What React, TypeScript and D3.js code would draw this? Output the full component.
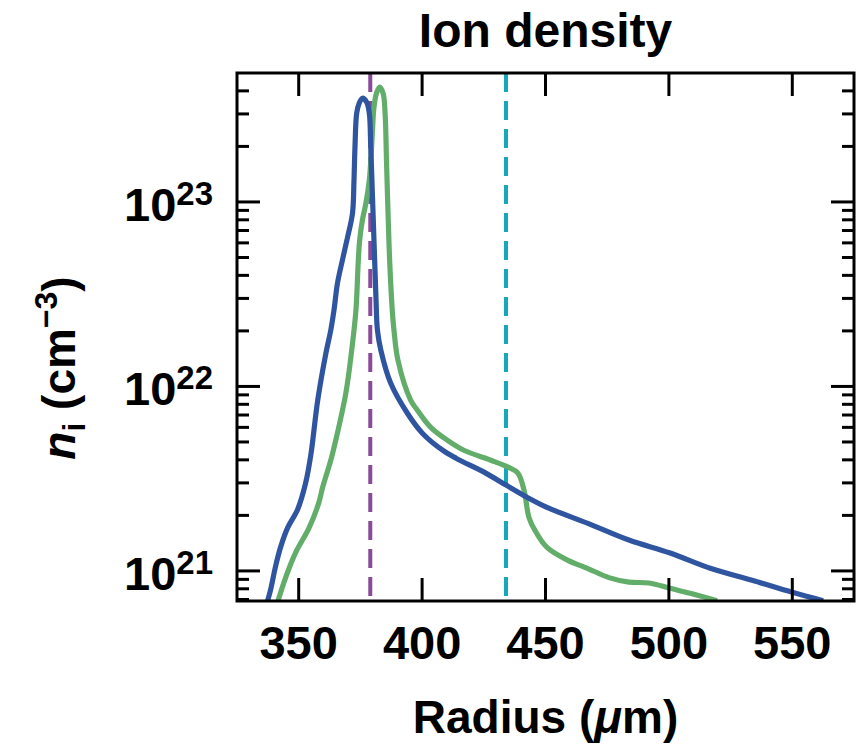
import React from 'react';
import * as d3 from 'd3';

const width = 868;
const height = 749;
const margin = {top: 73, right: 14, bottom: 148, left: 237};
const blue = '#2f55a0';
const green = '#63ad6b';
const purple = '#8b4a99';
const cyan = '#15a8ba';
const font = '"Liberation Sans", Arial, Helvetica, sans-serif';

// blue curve: radius (um) and ion density (cm^-3)
const blueRadius = [337.4, 338.6, 340.7, 342.7, 345.5, 349.6, 352.8, 354.9, 357.7, 361.0, 363.0, 364.3, 365.7, 367.7, 369.8, 371.8, 372.4, 372.8, 373.5, 374.5, 375.8, 377.5, 378.6, 379.2, 379.9, 380.6, 381.3, 381.9, 383.3, 387.3, 394.1, 400.2, 408.3, 413.9, 425.8, 434.0, 442.5, 450.6, 467.2, 483.8, 500.5, 517.1, 533.7, 550.0, 562.5];
const blueDensity = [6.9e20, 7.9e20, 1.07e21, 1.35e21, 1.71e21, 2.16e21, 2.99e21, 4.24e21, 8.4e21, 1.51e22, 2.02e22, 2.59e22, 3.62e22, 4.83e22, 6.44e22, 8.69e22, 1.31e23, 1.98e23, 3.03e23, 3.43e23, 3.65e23, 3.48e23, 3.03e23, 1.98e23, 1.06e23, 5.68e22, 3.04e22, 2.02e22, 1.57e22, 1.04e22, 7.13e21, 5.56e21, 4.51e21, 4.07e21, 3.39e21, 2.92e21, 2.51e21, 2.21e21, 1.81e21, 1.47e21, 1.25e21, 1.03e21, 8.9e20, 7.66e20, 6.9e20];

// green curve
const greenRadius = [341.5, 344.7, 348.8, 354.1, 358.1, 359.7, 363.0, 365.0, 369.1, 371.8, 373.1, 373.5, 374.1, 374.7, 375.8, 377.2, 378.6, 379.2, 379.9, 380.5, 381.5, 382.8, 384.2, 385.0, 385.6, 386.2, 386.9, 388.0, 388.6, 390.2, 395.4, 398.1, 403.5, 410.3, 416.9, 427.9, 434.8, 438.8, 441.3, 443.3, 445.7, 450.6, 459.1, 467.2, 475.7, 483.8, 492.0, 500.5, 508.6, 519.5];
const greenDensity = [6.8e20, 9.2e20, 1.26e21, 1.70e21, 2.33e21, 2.84e21, 3.98e21, 5.1e21, 9.2e21, 1.71e22, 2.5e22, 3.04e22, 4.66e22, 6.2e22, 7.96e22, 9.8e22, 1.31e23, 1.68e23, 2.45e23, 3.26e23, 3.88e23, 4.19e23, 3.88e23, 3.03e23, 1.62e23, 8.69e22, 4.66e22, 2.49e22, 2.02e22, 1.39e22, 8.4e21, 7.43e21, 6.0e21, 5.1e21, 4.51e21, 3.98e21, 3.65e21, 3.39e21, 2.74e21, 1.95e21, 1.66e21, 1.34e21, 1.14e21, 1.03e21, 9.2e20, 8.7e20, 8.6e20, 8.05e20, 7.57e20, 6.9e20];

// vertical dashed markers
const markerRadius = [379, 434];
const markerColors = [purple, cyan];

const xTicks = [350, 400, 450, 500, 550];
const yDecades = [21, 22, 23];

const xScale = d3.scaleLinear().domain([325, 575]).range([margin.left, width - margin.right]);
const yScale = d3.scaleLog().domain([6.87e20, 5e23]).range([height - margin.bottom, margin.top]);

const minorTicks: number[] = [];
[20, 21, 22, 23].forEach(e => {
  for (let m = 1; m <= 9; m++) {
    const v = m * Math.pow(10, e);
    if (v >= 6.87e20 && v <= 5e23) minorTicks.push(v);
  }
});

function makePath(xs: number[], ys: number[]) {
  const line = d3.line<number>()
    .x(i => xScale(xs[i]))
    .y(i => yScale(ys[i]))
    .curve(d3.curveCatmullRom.alpha(0.5));
  return line(d3.range(xs.length)) || '';
}

export default function App() {
  const x0 = margin.left;
  const x1 = width - margin.right;
  const y0 = margin.top;
  const y1 = height - margin.bottom;
  const major = 23;
  const minor = 12;

  return (
    <svg width={width} height={height} style={{position: 'absolute', left: 0, top: 0, background: '#fff'}} fontFamily={font}>
      <defs>
        <clipPath id="plot">
          <rect x={x0} y={y0} width={x1 - x0} height={y1 - y0}/>
        </clipPath>
      </defs>

      <g clipPath="url(#plot)">
        {markerRadius.map((r, i) => (
          <line key={'m' + i} x1={xScale(r)} x2={xScale(r)} y1={y0} y2={y1}
            stroke={markerColors[i]} strokeWidth={4} strokeDasharray="19,9"/>
        ))}
        <path d={makePath(greenRadius, greenDensity)} fill="none" stroke={green} strokeWidth={5.2} strokeLinejoin="round"/>
        <path d={makePath(blueRadius, blueDensity)} fill="none" stroke={blue} strokeWidth={5.2} strokeLinejoin="round"/>
      </g>

      {/* ticks on all four sides, pointing in */}
      <g stroke="#000" strokeWidth={3}>
        {xTicks.map(t => (
          <g key={'xt' + t}>
            <line x1={xScale(t)} x2={xScale(t)} y1={y1} y2={y1 - major}/>
            <line x1={xScale(t)} x2={xScale(t)} y1={y0} y2={y0 + major}/>
          </g>
        ))}
        {minorTicks.map(v => {
          const isMajor = Math.abs(Math.log10(v) - Math.round(Math.log10(v))) < 1e-9;
          const len = isMajor ? major : minor;
          return (
            <g key={'yt' + v}>
              <line x1={x0} x2={x0 + len} y1={yScale(v)} y2={yScale(v)}/>
              <line x1={x1} x2={x1 - len} y1={yScale(v)} y2={yScale(v)}/>
            </g>
          );
        })}
      </g>
      <rect x={x0} y={y0} width={x1 - x0} height={y1 - y0} fill="none" stroke="#000" strokeWidth={3}/>

      {/* tick labels */}
      <g fontWeight="bold" fill="#000">
        {xTicks.map(t => (
          <text key={'xl' + t} x={xScale(t)} y={659} textAnchor="middle" fontSize={47}>{t}</text>
        ))}
        {yDecades.map(e => (
          <text key={'yl' + e} x={213} y={yScale(Math.pow(10, e)) + 19} textAnchor="end" fontSize={47}>
            10<tspan dy={-16} fontSize={33}>{e}</tspan>
          </text>
        ))}
      </g>

      {/* titles */}
      <text x={(x0 + x1) / 2} y={47} textAnchor="middle" fontSize={48} fontWeight="bold">Ion density</text>
      <text x={(x0 + x1) / 2} y={733} textAnchor="middle" fontSize={46} fontWeight="bold">
        Radius (<tspan fontStyle="italic">μ</tspan>m)
      </text>
      <text transform="translate(75,368) rotate(-90)" textAnchor="middle" fontSize={46} fontWeight="bold">
        <tspan fontStyle="italic">n</tspan><tspan fontSize={32} dy={10}>i</tspan><tspan dy={-10}> (cm</tspan><tspan fontSize={32} dy={-18}>−3</tspan><tspan dy={18}>)</tspan>
      </text>
    </svg>
  );
}
